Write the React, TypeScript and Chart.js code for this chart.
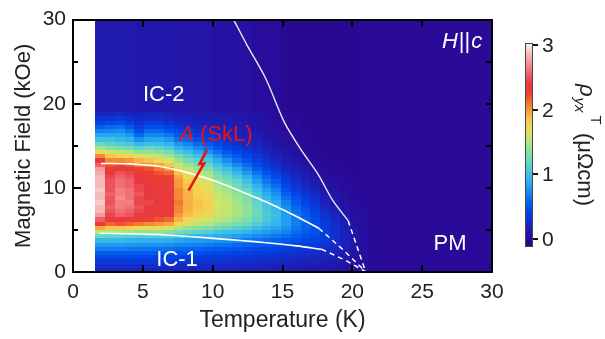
import React, { useEffect, useRef } from 'react';
import { Chart, registerables } from 'chart.js';

Chart.register(...registerables);

// ---------- data ----------
// temperature columns (K), centres of 0.7 K wide bins
const temperatures = [1.95, 2.65, 3.35, 4.05, 4.75, 5.45, 6.15, 6.85, 7.55, 8.25, 8.95, 9.65, 10.35, 11.05, 11.75, 12.45, 13.15, 13.85, 14.55, 15.25, 15.95, 16.65, 17.35, 18.05, 18.75, 19.45, 20.15, 20.85, 21.55, 22.25, 22.95, 23.65, 24.35, 25.05, 25.75, 26.45, 27.15, 27.85, 28.55, 29.25, 29.95];
// field rows (kOe), centres of 0.5 kOe bins
const fields = [0.25, 0.75, 1.25, 1.75, 2.25, 2.75, 3.25, 3.75, 4.25, 4.75, 5.25, 5.75, 6.25, 6.75, 7.25, 7.75, 8.25, 8.75, 9.25, 9.75, 10.25, 10.75, 11.25, 11.75, 12.25, 12.75, 13.25, 13.75, 14.25, 14.75, 15.25, 15.75, 16.25, 16.75, 17.25, 17.75, 18.25, 18.75];
// rho_yx^T (μΩcm): one field scan per temperature column, low field -> high field
const rhoByTemperature: number[][] = [
  [0.22,0.28,0.35,0.45,0.55,0.68,0.8,0.95,1.2,1.55,1.95,2.3,2.55,2.75,2.85,2.85,2.9,2.85,2.85,2.9,2.85,2.85,2.85,2.8,2.75,2.55,2.35,2.05,1.75,1.45,1.2,1.0,0.85,0.7,0.55,0.42,0.3,0.22],
  [0.22,0.28,0.35,0.45,0.55,0.68,0.8,0.95,1.15,1.5,1.85,2.15,2.35,2.45,2.5,2.55,2.5,2.5,2.55,2.5,2.5,2.5,2.45,2.4,2.3,2.2,2.05,1.85,1.6,1.35,1.15,1.0,0.85,0.72,0.6,0.45,0.32,0.22],
  [0.22,0.28,0.35,0.45,0.55,0.68,0.8,0.95,1.15,1.5,1.85,2.2,2.4,2.55,2.6,2.65,2.65,2.7,2.65,2.65,2.6,2.6,2.55,2.5,2.4,2.25,2.05,1.8,1.55,1.3,1.1,0.95,0.85,0.75,0.62,0.48,0.35,0.25],
  [0.22,0.28,0.35,0.45,0.55,0.66,0.78,0.92,1.12,1.45,1.8,2.15,2.35,2.5,2.55,2.6,2.65,2.6,2.6,2.6,2.55,2.55,2.5,2.45,2.35,2.2,2.0,1.75,1.5,1.25,1.05,0.9,0.78,0.65,0.52,0.4,0.3,0.22],
  [0.22,0.28,0.35,0.44,0.54,0.65,0.77,0.9,1.1,1.4,1.75,2.1,2.3,2.4,2.45,2.5,2.45,2.45,2.5,2.45,2.45,2.4,2.4,2.35,2.25,2.1,1.9,1.65,1.4,1.15,0.95,0.75,0.6,0.48,0.38,0.3,0.24,0.2],
  [0.22,0.28,0.35,0.44,0.54,0.65,0.77,0.9,1.1,1.4,1.75,2.05,2.25,2.35,2.4,2.4,2.45,2.4,2.4,2.4,2.4,2.35,2.35,2.3,2.2,2.05,1.85,1.6,1.4,1.2,1.0,0.85,0.72,0.6,0.48,0.38,0.28,0.22],
  [0.22,0.28,0.34,0.43,0.53,0.64,0.76,0.9,1.1,1.4,1.7,2.0,2.2,2.3,2.35,2.35,2.4,2.35,2.35,2.35,2.35,2.3,2.3,2.2,2.1,1.95,1.75,1.55,1.35,1.15,0.98,0.85,0.72,0.6,0.48,0.36,0.27,0.2],
  [0.22,0.27,0.34,0.42,0.52,0.63,0.75,0.88,1.08,1.35,1.65,1.95,2.15,2.3,2.35,2.35,2.4,2.4,2.35,2.35,2.3,2.3,2.25,2.15,2.0,1.85,1.65,1.45,1.25,1.08,0.92,0.78,0.65,0.52,0.4,0.3,0.23,0.18],
  [0.2,0.26,0.33,0.41,0.5,0.6,0.72,0.85,1.02,1.25,1.5,1.75,1.9,2.0,2.05,2.05,2.1,2.05,2.05,2.05,2.0,2.0,1.95,1.85,1.72,1.58,1.42,1.25,1.08,0.92,0.78,0.64,0.52,0.42,0.33,0.26,0.2,0.16],
  [0.2,0.25,0.32,0.4,0.49,0.59,0.7,0.82,0.98,1.18,1.4,1.62,1.78,1.86,1.9,1.92,1.92,1.9,1.9,1.88,1.86,1.82,1.76,1.68,1.56,1.42,1.28,1.12,0.98,0.84,0.7,0.58,0.46,0.36,0.28,0.22,0.18,0.15],
  [0.2,0.25,0.31,0.39,0.48,0.58,0.69,0.8,0.95,1.14,1.35,1.55,1.7,1.78,1.82,1.84,1.84,1.82,1.8,1.78,1.75,1.7,1.64,1.55,1.44,1.3,1.15,1.0,0.86,0.72,0.6,0.48,0.38,0.3,0.24,0.2,0.16,0.14],
  [0.2,0.25,0.31,0.38,0.47,0.56,0.67,0.78,0.92,1.1,1.3,1.5,1.64,1.73,1.78,1.8,1.8,1.78,1.76,1.72,1.68,1.62,1.55,1.45,1.32,1.18,1.04,0.9,0.76,0.63,0.52,0.42,0.34,0.27,0.22,0.18,0.15,0.13],
  [0.19,0.24,0.3,0.37,0.45,0.54,0.64,0.75,0.88,1.04,1.22,1.4,1.52,1.6,1.62,1.64,1.62,1.6,1.57,1.53,1.48,1.42,1.34,1.24,1.12,1.0,0.88,0.76,0.64,0.53,0.44,0.36,0.29,0.24,0.2,0.17,0.14,0.12],
  [0.19,0.24,0.29,0.36,0.44,0.53,0.63,0.74,0.86,1.0,1.18,1.35,1.48,1.55,1.58,1.58,1.56,1.53,1.5,1.45,1.38,1.3,1.2,1.1,0.98,0.86,0.74,0.63,0.53,0.44,0.36,0.3,0.25,0.21,0.18,0.15,0.13,0.11],
  [0.18,0.23,0.28,0.35,0.42,0.51,0.6,0.7,0.82,0.96,1.12,1.28,1.4,1.46,1.48,1.48,1.46,1.42,1.38,1.32,1.25,1.16,1.06,0.95,0.84,0.73,0.62,0.52,0.44,0.36,0.3,0.25,0.21,0.18,0.15,0.13,0.11,0.1],
  [0.17,0.22,0.27,0.33,0.4,0.48,0.57,0.67,0.78,0.92,1.06,1.2,1.3,1.36,1.38,1.37,1.34,1.3,1.25,1.18,1.1,1.0,0.9,0.8,0.7,0.6,0.51,0.43,0.36,0.3,0.25,0.21,0.18,0.15,0.13,0.11,0.1,0.09],
  [0.16,0.21,0.26,0.32,0.38,0.46,0.54,0.63,0.74,0.86,0.98,1.1,1.18,1.22,1.22,1.2,1.16,1.12,1.06,0.99,0.91,0.82,0.73,0.64,0.55,0.47,0.4,0.34,0.28,0.24,0.2,0.17,0.14,0.12,0.1,0.09,0.08,0.07],
  [0.15,0.2,0.25,0.3,0.36,0.43,0.51,0.6,0.7,0.8,0.9,1.0,1.06,1.08,1.07,1.04,1.0,0.95,0.89,0.82,0.74,0.66,0.58,0.5,0.43,0.37,0.31,0.26,0.22,0.18,0.15,0.12,0.1,0.08,0.07,0.06,0.05,0.05],
  [0.14,0.19,0.24,0.29,0.35,0.41,0.49,0.57,0.66,0.76,0.85,0.93,0.97,0.98,0.96,0.93,0.88,0.82,0.76,0.69,0.62,0.54,0.46,0.4,0.34,0.28,0.23,0.19,0.15,0.12,0.1,0.08,0.06,0.05,0.04,0.03,0.03,0.02],
  [0.13,0.18,0.22,0.27,0.32,0.38,0.45,0.53,0.62,0.7,0.77,0.81,0.82,0.81,0.78,0.74,0.69,0.63,0.57,0.5,0.44,0.38,0.32,0.27,0.22,0.18,0.14,0.11,0.09,0.07,0.05,0.04,0.03,0.02,0.02,0.01,0.01,0.0],
  [0.12,0.16,0.2,0.25,0.3,0.35,0.41,0.48,0.55,0.62,0.66,0.68,0.68,0.66,0.63,0.59,0.54,0.49,0.44,0.38,0.33,0.28,0.23,0.19,0.15,0.12,0.09,0.07,0.05,0.04,0.03,0.02,0.01,0.0,0.0,-0.01,-0.01,-0.02],
  [0.11,0.15,0.19,0.23,0.28,0.33,0.38,0.44,0.5,0.55,0.58,0.58,0.57,0.55,0.52,0.48,0.43,0.38,0.33,0.28,0.24,0.2,0.16,0.13,0.1,0.07,0.05,0.03,0.02,0.01,0.0,-0.01,-0.01,-0.02,-0.02,-0.03,-0.03,-0.03],
  [0.1,0.14,0.18,0.22,0.26,0.31,0.36,0.41,0.46,0.49,0.5,0.49,0.47,0.44,0.41,0.37,0.33,0.28,0.24,0.2,0.16,0.13,0.1,0.08,0.06,0.04,0.02,0.01,0.0,-0.01,-0.02,-0.02,-0.03,-0.03,-0.03,-0.03,-0.03,-0.03],
  [0.09,0.12,0.16,0.2,0.24,0.28,0.32,0.36,0.39,0.4,0.39,0.37,0.34,0.31,0.27,0.23,0.2,0.16,0.13,0.1,0.08,0.06,0.04,0.02,0.01,0.0,-0.01,-0.02,-0.02,-0.03,-0.03,-0.03,-0.03,-0.03,-0.03,-0.03,-0.03,-0.03],
  [0.08,0.11,0.14,0.17,0.2,0.23,0.26,0.28,0.3,0.3,0.29,0.27,0.24,0.21,0.18,0.15,0.12,0.1,0.08,0.06,0.04,0.03,0.02,0.01,0.0,-0.01,-0.02,-0.02,-0.03,-0.03,-0.03,-0.03,-0.03,-0.03,-0.03,-0.03,-0.03,-0.03],
  [0.06,0.08,0.1,0.12,0.14,0.16,0.18,0.19,0.2,0.19,0.18,0.16,0.14,0.12,0.1,0.08,0.06,0.05,0.04,0.03,0.02,0.01,0.0,0.0,-0.01,-0.02,-0.02,-0.03,-0.03,-0.03,-0.03,-0.03,-0.03,-0.03,-0.03,-0.03,-0.03,-0.03],
  [0.04,0.05,0.06,0.07,0.08,0.09,0.1,0.1,0.1,0.09,0.08,0.07,0.06,0.05,0.04,0.03,0.02,0.01,0.0,0.0,-0.01,-0.01,-0.02,-0.02,-0.02,-0.02,-0.02,-0.02,-0.02,-0.02,-0.02,-0.02,-0.02,-0.02,-0.02,-0.02,-0.02,-0.02],
  [0.02,0.03,0.03,0.04,0.04,0.05,0.05,0.05,0.05,0.04,0.04,0.03,0.03,0.02,0.02,0.01,0.01,0,0,0,0,0,0,0,0,0,0,0,0,0,0,0,0,0,0,0,0,0],
];
// nearly uniform level above the scanned window (19–30 kOe), per temperature column;
// columns beyond the scans use it over the full field range
const rhoUpper = [0.13, 0.13, 0.13, 0.13, 0.12, 0.12, 0.12, 0.12, 0.09, 0.09, 0.09, 0.09, 0.06, 0.06, 0.06, 0.06, 0.02, 0.02, 0.02, -0.03, -0.03, -0.03, -0.03, -0.03, -0.03, -0.03, -0.03, 0, 0, 0, 0, 0, 0, 0, 0, 0, 0, 0, 0, 0, 0];

// phase boundaries (T in K, H in kOe)
const boundaryUpperT = [11.5, 12.45, 13.8, 15.1, 16.3, 17.55, 18.6, 19.7];
const boundaryUpperH = [30, 27.0, 23.0, 17.9, 14.6, 11.6, 8.5, 6.1];
const boundaryUpperDashT = [19.7, 20.95];
const boundaryUpperDashH = [6.1, 0.05];
const boundaryMidT = [2.0, 4, 6, 8, 10, 12, 14, 16, 17.6];
const boundaryMidH = [12.9, 12.85, 12.6, 11.9, 10.9, 9.6, 8.2, 6.6, 5.2];
const boundaryMidDashT = [17.6, 19.3, 20.95];
const boundaryMidDashH = [5.2, 2.7, 0.05];
const boundaryLowT = [1.9, 4, 6, 8, 10, 12, 14, 16, 17.8];
const boundaryLowH = [4.6, 4.55, 4.45, 4.25, 4.0, 3.75, 3.45, 3.1, 2.7];
const boundaryLowDashT = [17.8, 19.5, 20.95];
const boundaryLowDashH = [2.7, 1.4, 0.05];

const xTickValues = [0, 5, 10, 15, 20, 25, 30];
const yTickValues = [0, 10, 20, 30];
const frameTickValues = [0, 5, 10, 15, 20, 25, 30];
const colorbarTicks = [0, 1, 2, 3];
const colorbarMin = -0.12;
const colorbarMax = 3.03;

// lightning arrow pointing at the A phase (T, H)
const arrowT = [9.59, 9.06, 9.38, 8.27];
const arrowH = [14.52, 12.83, 12.9, 9.68];

const FONT = '"Liberation Sans", Arial, Helvetica, sans-serif';

// ---------- colour map ----------
const cmap: [number, number, number, number][] = [
  [-0.12, 36, 4, 128],
  [0.0, 42, 10, 152],
  [0.15, 30, 28, 178],
  [0.3, 16, 48, 208],
  [0.45, 0, 72, 232],
  [0.6, 8, 104, 240],
  [0.75, 24, 144, 240],
  [0.9, 48, 176, 240],
  [1.05, 72, 200, 220],
  [1.2, 104, 216, 192],
  [1.35, 136, 224, 160],
  [1.5, 176, 230, 128],
  [1.65, 216, 228, 96],
  [1.8, 248, 208, 80],
  [1.95, 248, 168, 64],
  [2.1, 244, 120, 48],
  [2.25, 236, 64, 48],
  [2.4, 232, 56, 64],
  [2.55, 240, 96, 104],
  [2.7, 244, 140, 140],
  [2.85, 246, 184, 184],
  [3.05, 255, 252, 252],
];

function rhoColor(v: number): string {
  if (v <= cmap[0][0]) return `rgb(${cmap[0][1]},${cmap[0][2]},${cmap[0][3]})`;
  for (let i = 1; i < cmap.length; i++) {
    if (v <= cmap[i][0]) {
      const a = cmap[i - 1];
      const b = cmap[i];
      const f = (v - a[0]) / (b[0] - a[0]);
      const r = Math.round(a[1] + (b[1] - a[1]) * f);
      const g = Math.round(a[2] + (b[2] - a[2]) * f);
      const bl = Math.round(a[3] + (b[3] - a[3]) * f);
      return `rgb(${r},${g},${bl})`;
    }
  }
  const l = cmap[cmap.length - 1];
  return `rgb(${l[1]},${l[2]},${l[3]})`;
}

function pts(ts: number[], hs: number[]) {
  return ts.map((t, i) => ({ x: t, y: hs[i] }));
}

function plotBox(chart: any) {
  const x = chart.scales.x;
  const y = chart.scales.y;
  return {
    left: x.getPixelForValue(0),
    right: x.getPixelForValue(30),
    top: y.getPixelForValue(30),
    bottom: y.getPixelForValue(0),
  };
}

const heatmapPlugin = {
  id: 'heatmap',
  beforeDatasetsDraw(chart: any) {
    const ctx = chart.ctx;
    const x = chart.scales.x;
    const y = chart.scales.y;
    const b = plotBox(chart);
    ctx.save();
    ctx.beginPath();
    ctx.rect(b.left, b.top, b.right - b.left, b.bottom - b.top);
    ctx.clip();
    const halfT = (temperatures[1] - temperatures[0]) / 2;
    const halfH = (fields[1] - fields[0]) / 2;
    const bandFrom = fields[fields.length - 1] + halfH;
    temperatures.forEach((t, c) => {
      const xl = Math.round(x.getPixelForValue(t - halfT));
      const xr = Math.round(x.getPixelForValue(t + halfT));
      const col = rhoByTemperature[c];
      if (col) {
        col.forEach((v, r) => {
          const yb = Math.round(y.getPixelForValue(fields[r] - halfH));
          const yt = Math.round(y.getPixelForValue(fields[r] + halfH));
          ctx.fillStyle = rhoColor(v);
          ctx.fillRect(xl, yt, xr - xl, yb - yt);
        });
      }
      const yb = Math.round(y.getPixelForValue(col ? bandFrom : 0));
      const yt = Math.round(y.getPixelForValue(30)) - 1;
      ctx.fillStyle = rhoColor(rhoUpper[c]);
      ctx.fillRect(xl, yt, xr - xl, yb - yt);
    });
    ctx.restore();
  },
};

const decorPlugin = {
  id: 'decor',
  afterDraw(chart: any) {
    const ctx = chart.ctx;
    const x = chart.scales.x;
    const y = chart.scales.y;
    const b = plotBox(chart);
    ctx.save();
    ctx.setLineDash([]);
    ctx.globalAlpha = 1;

    // labels
    ctx.textBaseline = 'middle';
    ctx.fillStyle = '#ffffff';
    ctx.font = `22px ${FONT}`;
    ctx.textAlign = 'center';
    ctx.fillText('IC-2', x.getPixelForValue(6.5), y.getPixelForValue(21.0));
    ctx.fillText('IC-1', x.getPixelForValue(7.45), y.getPixelForValue(1.45));
    ctx.fillText('PM', x.getPixelForValue(27.0), y.getPixelForValue(3.3));

    // H||c (right aligned)
    ctx.textAlign = 'left';
    const hx = x.getPixelForValue(29.3);
    const hy = y.getPixelForValue(27.3);
    const italic = `italic 22px ${FONT}`;
    const normal = `22px ${FONT}`;
    ctx.font = italic; const wH = ctx.measureText('H').width; const wc = ctx.measureText('c').width;
    ctx.font = normal; const wbar = ctx.measureText('||').width;
    let cx = hx - (wH + wbar + wc + 2);
    ctx.font = italic; ctx.fillText('H', cx, hy); cx += wH + 1;
    ctx.font = normal; ctx.fillText('||', cx, hy); cx += wbar + 1;
    ctx.font = italic; ctx.fillText('c', cx, hy);

    // A (SkL)
    ctx.fillStyle = '#ee1111';
    let ax = x.getPixelForValue(7.6);
    const ay = y.getPixelForValue(16.3);
    ctx.font = italic; ctx.fillText('A', ax, ay); ax += ctx.measureText('A').width;
    ctx.font = normal; ctx.fillText(' (SkL)', ax, ay);

    // lightning arrow
    ctx.strokeStyle = '#ee1111';
    ctx.lineWidth = 2.5;
    ctx.beginPath();
    arrowT.forEach((t, i) => {
      const px = x.getPixelForValue(t);
      const py = y.getPixelForValue(arrowH[i]);
      if (i === 0) ctx.moveTo(px, py); else ctx.lineTo(px, py);
    });
    ctx.stroke();

    // frame as filled bars (crisp)
    ctx.fillStyle = '#000000';
    const L = Math.round(b.left), R = Math.round(b.right), T = Math.round(b.top), B = Math.round(b.bottom);
    ctx.fillRect(L - 1, T - 1, R - L + 2, 2);
    ctx.fillRect(L - 1, B - 1, R - L + 2, 2);
    ctx.fillRect(L - 1, T - 1, 2, B - T + 2);
    ctx.fillRect(R - 1, T - 1, 2, B - T + 2);

    // inward ticks
    frameTickValues.forEach((v) => {
      const px = Math.round(x.getPixelForValue(v));
      ctx.fillRect(px - 1, B - 7, 2, 7);
      ctx.fillRect(px - 1, T, 2, 7);
      const py = Math.round(y.getPixelForValue(v));
      const len = v % 10 === 0 ? 8 : 5;
      ctx.fillRect(L, py - 1, len, 2);
      ctx.fillRect(R - 6, py - 1, 6, 2);
    });

    // colour bar
    const cbLeft = 525;
    const cbWidth = 8;
    const cbTop = 43;
    const cbBottom = 247;
    const toY = (v: number) => cbBottom - ((v - colorbarMin) / (colorbarMax - colorbarMin)) * (cbBottom - cbTop);
    for (let py = cbTop; py < cbBottom; py++) {
      const v = colorbarMin + ((cbBottom - py - 0.5) / (cbBottom - cbTop)) * (colorbarMax - colorbarMin);
      ctx.fillStyle = rhoColor(v);
      ctx.fillRect(cbLeft, py, cbWidth, 1);
    }
    ctx.strokeStyle = '#444';
    ctx.lineWidth = 1;
    ctx.strokeRect(cbLeft + 0.5, cbTop + 0.5, cbWidth - 1, cbBottom - cbTop - 1);
    ctx.fillStyle = '#111';
    colorbarTicks.forEach((v) => {
      const py = Math.round(toY(v));
      ctx.fillRect(cbLeft + cbWidth, py - 1, 5, 2);
    });
    ctx.fillStyle = '#222';
    ctx.font = `21px ${FONT}`;
    ctx.textAlign = 'left';
    ctx.textBaseline = 'middle';
    colorbarTicks.forEach((v) => {
      ctx.fillText(String(v), 542, toY(v) + 1);
    });

    // colour bar title, rotated clockwise
    ctx.translate(586, 145);
    ctx.rotate(Math.PI / 2);
    const big = `italic 22px ${FONT}`;
    const sub = `italic 15px ${FONT}`;
    const sup = `15px ${FONT}`;
    const rest = `22px ${FONT}`;
    ctx.font = big; const w1 = ctx.measureText('ρ').width;
    ctx.font = sub; const w2 = ctx.measureText('yx').width;
    ctx.font = sup; const w3 = ctx.measureText('T').width;
    ctx.font = rest; const w4 = ctx.measureText(' (μΩcm)').width;
    const total = w1 + w2 + w3 + w4 + 6;
    let tx = -total / 2;
    ctx.textBaseline = 'alphabetic';
    ctx.fillStyle = '#222';
    ctx.font = big; ctx.fillText('ρ', tx, 6); tx += w1 + 1;
    ctx.font = sub; ctx.fillText('yx', tx, 11); tx += w2 + 3;
    ctx.font = sup; ctx.fillText('T', tx, -5); tx += w3 + 2;
    ctx.font = rest; ctx.fillText(' (μΩcm)', tx, 8);
    ctx.restore();
  },
};

export default function App() {
  const ref = useRef<HTMLCanvasElement>(null);
  useEffect(() => {
    const canvas = ref.current;
    if (!canvas) return;
    const solid = (d: { x: number; y: number }[], w: number, color: string) => ({
      data: d, showLine: true, borderColor: color, borderWidth: w, pointRadius: 0, fill: false, tension: 0.3,
    });
    const dashed = (d: { x: number; y: number }[], w: number, color: string) => ({
      data: d, showLine: true, borderColor: color, borderWidth: w, pointRadius: 0, fill: false, borderDash: [5, 4], tension: 0,
    });
    const chart = new Chart(canvas, {
      type: 'scatter',
      data: {
        datasets: [
          solid(pts(boundaryUpperT, boundaryUpperH), 1.4, '#ececec'),
          dashed(pts(boundaryUpperDashT, boundaryUpperDashH), 1.5, '#ffffff'),
          solid(pts(boundaryMidT, boundaryMidH), 1.6, '#ffffff'),
          dashed(pts(boundaryMidDashT, boundaryMidDashH), 1.5, '#ffffff'),
          solid(pts(boundaryLowT, boundaryLowH), 1.6, '#ffffff'),
          dashed(pts(boundaryLowDashT, boundaryLowDashH), 1.5, '#ffffff'),
        ] as any,
      },
      options: {
        animation: false,
        responsive: false,
        maintainAspectRatio: false,
        devicePixelRatio: 1,
        events: [],
        layout: { padding: { top: 18, right: 113, left: 0, bottom: 0 } },
        plugins: { legend: { display: false }, tooltip: { enabled: false } },
        scales: {
          x: {
            type: 'linear',
            min: 0,
            max: 30,
            afterFit: (s: any) => { s.height = 67; },
            afterBuildTicks: (s: any) => { s.ticks = xTickValues.map((v) => ({ value: v })); },
            grid: { display: false, drawTicks: false },
            border: { display: false },
            ticks: { font: { family: FONT, size: 21 }, color: '#222', padding: 8, maxRotation: 0, autoSkip: false },
            title: { display: true, text: 'Temperature (K)', font: { family: FONT, size: 23 }, color: '#222', padding: { top: 0, bottom: 5 } },
          },
          y: {
            type: 'linear',
            min: 0,
            max: 30,
            afterFit: (s: any) => { s.width = 73; },
            afterBuildTicks: (s: any) => { s.ticks = yTickValues.map((v) => ({ value: v })); },
            grid: { display: false, drawTicks: false },
            border: { display: false },
            ticks: { font: { family: FONT, size: 21 }, color: '#222', padding: 7, autoSkip: false },
            title: { display: true, text: 'Magnetic Field (kOe)', font: { family: FONT, size: 22 }, color: '#222', padding: { top: 11, bottom: 0 } },
          },
        },
      } as any,
      plugins: [heatmapPlugin, decorPlugin],
    });
    return () => chart.destroy();
  }, []);
  return (
    <div style={{ position: 'fixed', left: 0, top: 0, width: 605, height: 339, background: '#ffffff' }}>
      <canvas ref={ref} width={605} height={339} style={{ display: 'block', width: 605, height: 339 }} />
    </div>
  );
}
